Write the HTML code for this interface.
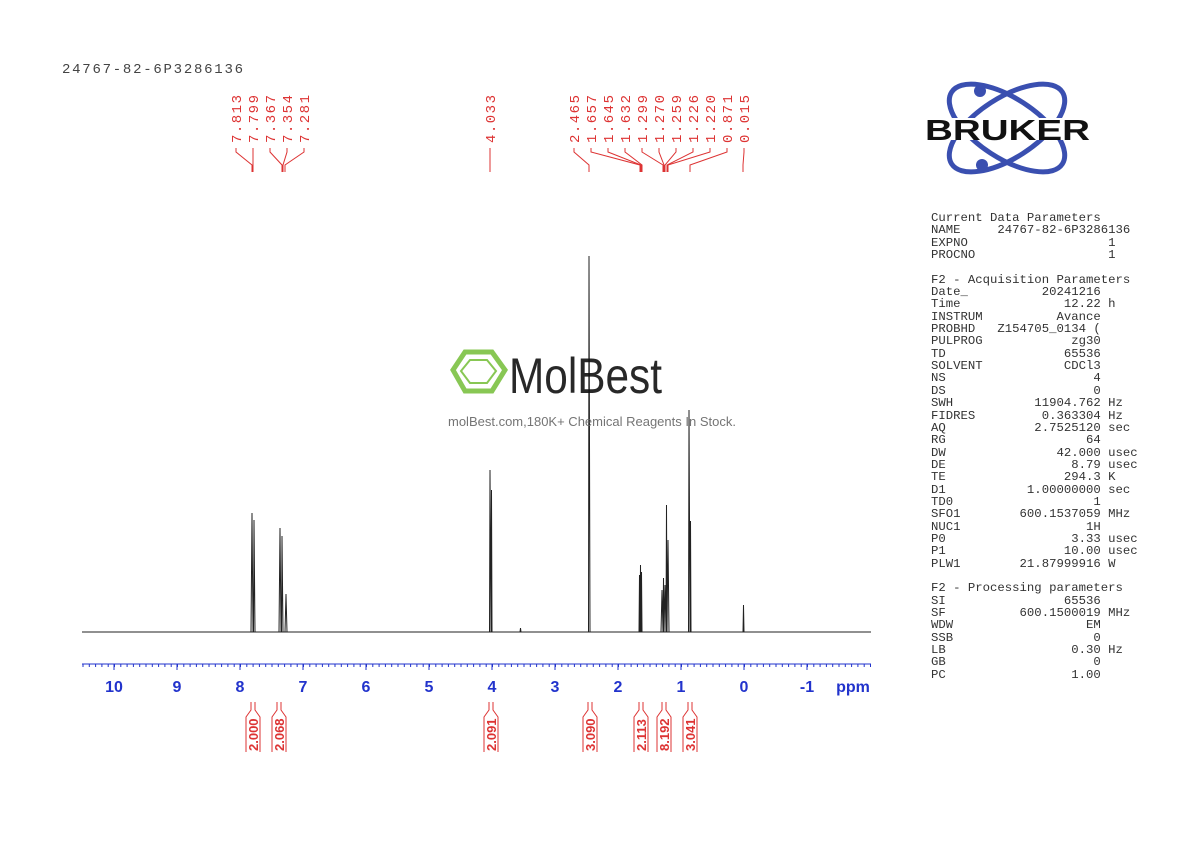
<!DOCTYPE html>
<html><head><meta charset="utf-8"><style>
body{margin:0;width:1190px;height:842px;background:#fff;position:relative;overflow:hidden;font-family:"Liberation Mono",monospace}
.p{position:absolute;font-size:12.3px;color:#333;white-space:pre;line-height:12.35px}
</style></head><body>
<svg width="1190" height="842" style="position:absolute;left:0;top:0">
<text x="62" y="73" font-family="Liberation Mono" font-size="14" fill="#444" textLength="181" lengthAdjust="spacing">24767-82-6P3286136</text>
<!-- peak labels -->
<g font-family="Liberation Mono" font-size="14" fill="#d33">
<text transform="translate(241,143) rotate(-90)" textLength="48">7.813</text>
<text transform="translate(258,143) rotate(-90)" textLength="48">7.799</text>
<text transform="translate(275,143) rotate(-90)" textLength="48">7.367</text>
<text transform="translate(292,143) rotate(-90)" textLength="48">7.354</text>
<text transform="translate(309,143) rotate(-90)" textLength="48">7.281</text>
<text transform="translate(495,143) rotate(-90)" textLength="48">4.033</text>
<text transform="translate(579,143) rotate(-90)" textLength="48">2.465</text>
<text transform="translate(596,143) rotate(-90)" textLength="48">1.657</text>
<text transform="translate(613,143) rotate(-90)" textLength="48">1.645</text>
<text transform="translate(630,143) rotate(-90)" textLength="48">1.632</text>
<text transform="translate(647,143) rotate(-90)" textLength="48">1.299</text>
<text transform="translate(664,143) rotate(-90)" textLength="48">1.270</text>
<text transform="translate(681,143) rotate(-90)" textLength="48">1.259</text>
<text transform="translate(698,143) rotate(-90)" textLength="48">1.226</text>
<text transform="translate(715,143) rotate(-90)" textLength="48">1.220</text>
<text transform="translate(732,143) rotate(-90)" textLength="48">0.871</text>
<text transform="translate(749,143) rotate(-90)" textLength="48">0.015</text>
</g>
<g stroke="#d33" stroke-width="1" fill="none">
<path d="M236,148 V152 L252,165 V172"/><path d="M253,148 V172"/>
<path d="M270,148 V152 L282,165 V172"/><path d="M287,148 V152 L283,165 V172"/><path d="M304,148 V152 L285,165 V172"/>
<path d="M490,148 V172"/>
<path d="M574,148 V152 L589,165 V172"/>
<path d="M591,148 V152 L640,165 V172"/><path d="M608,148 V152 L641,165 V172"/><path d="M625,148 V152 L642,165 V172"/>
<path d="M642,148 V152 L663,165 V172"/><path d="M659,148 V152 L664,165 V172"/><path d="M676,148 V152 L665,165 V172"/><path d="M693,148 V152 L667,165 V172"/><path d="M710,148 V152 L668,165 V172"/>
<path d="M727,148 V152 L690,165 V172"/><path d="M744,148 V152 L743,165 V172"/>
</g>
<!-- spectrum -->
<g stroke="#222" stroke-width="1" fill="none">
<line x1="82" y1="632" x2="871" y2="632"/>
<path d="M251,632 L252,513 L253,632 M253.5,632 L254,520 L255,632"/>
<path d="M279,632 L280,528 L281,632 M281.5,632 L282,536 L283,632"/>
<path d="M285,632 L286,594 L287,632"/>
<path d="M489.5,632 L490,470 L491,632 M491,632 L491.5,490 L492,632"/>
<path d="M588.5,632 L589,256 L590,632"/>
<path d="M639,632 L639.5,575 L640,632 L640.5,565 L641,632 L641.5,572 L642,632"/>
<path d="M661,632 L662,590 L663,632 L663.5,578 L664,632 L665,585 L666,632 L666.5,505 L667,632 L668,540 L669,632"/>
<path d="M688.5,632 L689,410 L690,632 L690.5,521 L691,632"/>
<path d="M743,632 L743.5,605 L744,632"/>
<path d="M520,632 L520.5,628 L521,632"/>
</g>
<!-- axis -->
<line x1="82" y1="664" x2="871" y2="664" stroke="#2233cc" stroke-width="1"/>
<line x1="82" y1="665.5" x2="871" y2="665.5" stroke="#2233cc" stroke-width="3" stroke-dasharray="1 5.3" stroke-dashoffset="-0.5"/>
<g stroke="#2233cc" stroke-width="1">
<line x1="114" y1="664" x2="114" y2="670"/><line x1="177" y1="664" x2="177" y2="670"/><line x1="240" y1="664" x2="240" y2="670"/><line x1="303" y1="664" x2="303" y2="670"/><line x1="366" y1="664" x2="366" y2="670"/><line x1="429" y1="664" x2="429" y2="670"/><line x1="492" y1="664" x2="492" y2="670"/><line x1="555" y1="664" x2="555" y2="670"/><line x1="618" y1="664" x2="618" y2="670"/><line x1="681" y1="664" x2="681" y2="670"/><line x1="744" y1="664" x2="744" y2="670"/><line x1="807" y1="664" x2="807" y2="670"/>
</g>
<g font-family="Liberation Sans" font-weight="bold" font-size="16" fill="#2233cc" text-anchor="middle">
<text x="114" y="692">10</text><text x="177" y="692">9</text><text x="240" y="692">8</text><text x="303" y="692">7</text><text x="366" y="692">6</text><text x="429" y="692">5</text><text x="492" y="692">4</text><text x="555" y="692">3</text><text x="618" y="692">2</text><text x="681" y="692">1</text><text x="744" y="692">0</text><text x="807" y="692">-1</text><text x="853" y="692">ppm</text>
</g>
<!-- integrals -->
<g stroke="#d33" stroke-width="1" fill="none">
<path d="M251,702 V710 L246,717 V752 M255,702 V710 L260,717 V752"/>
<path d="M277,702 V710 L272,717 V752 M281,702 V710 L286,717 V752"/>
<path d="M489,702 V710 L484,717 V752 M493,702 V710 L498,717 V752"/>
<path d="M588,702 V710 L583,717 V752 M592,702 V710 L597,717 V752"/>
<path d="M639,702 V710 L634,717 V752 M643,702 V710 L648,717 V752"/>
<path d="M662,702 V710 L657,717 V752 M666,702 V710 L671,717 V752"/>
<path d="M688,702 V710 L683,717 V752 M692,702 V710 L697,717 V752"/>
</g>
<g font-family="Liberation Sans" font-weight="bold" font-size="13" fill="#d33">
<text transform="translate(258,751) rotate(-90)">2.000</text>
<text transform="translate(284,751) rotate(-90)">2.068</text>
<text transform="translate(496,751) rotate(-90)">2.091</text>
<text transform="translate(595,751) rotate(-90)">3.090</text>
<text transform="translate(646,751) rotate(-90)">2.113</text>
<text transform="translate(669,751) rotate(-90)">8.192</text>
<text transform="translate(695,751) rotate(-90)">3.041</text>
</g>
<!-- watermark -->
<g opacity="0.9">
<polygon points="465,352 492,352 505,370 492,391 465,391 453,370" fill="none" stroke="#7cc242" stroke-width="5"/>
<polygon points="470,360 487,360 496,371 487,383 470,383 461,371" fill="none" stroke="#7cc242" stroke-width="2"/>
<text x="509" y="393" font-family="Liberation Sans" font-size="50" fill="#111" textLength="153" lengthAdjust="spacingAndGlyphs">MolBest</text>
<text x="448" y="426" font-family="Liberation Sans" font-size="13" fill="#666">molBest.com,180K+ Chemical Reagents In Stock.</text>
</g>
<!-- Bruker logo -->
<g fill="none" stroke="#3a4fb0" stroke-width="5">
<ellipse cx="1007" cy="128" rx="66" ry="30" transform="rotate(33 1007 128)"/>
<ellipse cx="1007" cy="128" rx="66" ry="30" transform="rotate(-33 1007 128)"/>
</g>
<circle cx="980" cy="91" r="6" fill="#3a4fb0"/><circle cx="982" cy="165" r="6" fill="#3a4fb0"/>
<rect x="925" y="118" width="166" height="22" fill="#fff"/>
<text x="925" y="140" font-family="Liberation Sans" font-weight="bold" font-size="29" fill="#111" textLength="165" lengthAdjust="spacingAndGlyphs">BRUKER</text>
</svg>
<div class="p" style="left:931px;top:212px">Current Data Parameters
NAME     24767-82-6P3286136
EXPNO                   1
PROCNO                  1

F2 - Acquisition Parameters
Date_          20241216
Time              12.22 h
INSTRUM          Avance
PROBHD   Z154705_0134 (
PULPROG            zg30
TD                65536
SOLVENT           CDCl3
NS                    4
DS                    0
SWH           11904.762 Hz
FIDRES         0.363304 Hz
AQ            2.7525120 sec
RG                   64
DW               42.000 usec
DE                 8.79 usec
TE                294.3 K
D1           1.00000000 sec
TD0                   1
SFO1        600.1537059 MHz
NUC1                 1H
P0                 3.33 usec
P1                10.00 usec
PLW1        21.87999916 W

F2 - Processing parameters
SI                65536
SF          600.1500019 MHz
WDW                  EM
SSB                   0
LB                 0.30 Hz
GB                    0
PC                 1.00</div>
</body></html>
